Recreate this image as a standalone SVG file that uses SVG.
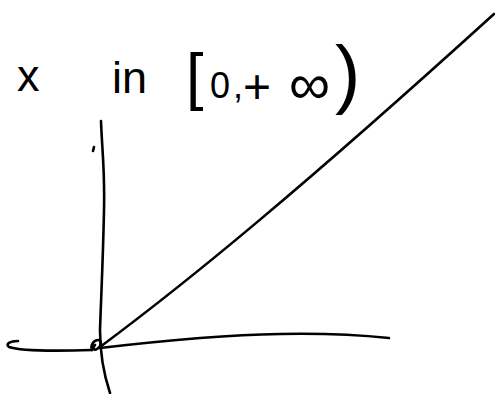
<svg xmlns="http://www.w3.org/2000/svg" width="495" height="394" viewBox="0 0 495 394">
<style>
.ink{fill:none;stroke:#000;stroke-width:2.6;stroke-linecap:round;stroke-linejoin:round}
.t{font-family:"Liberation Sans",Arial,sans-serif;fill:#000}
</style>
<rect width="495" height="394" fill="#fff"/>
<g id="label">
<text class="t" x="17" y="91" font-size="45">x</text>
<text class="t" x="112" y="93" font-size="45">in</text>
<text class="t" x="186" y="98" font-size="63">[</text>
<text class="t" x="210" y="98" font-size="36">0</text>
<text class="t" x="233" y="98" font-size="36">,</text>
<text class="t" x="243" y="103" font-size="48">+</text>
<text class="t" x="289" y="104" font-size="58">∞</text>
<text class="t" x="335" y="99" font-size="76">)</text>
</g>
<g id="axes">
<path class="ink" d="M101,121 C102,150 105,170 104,210 C103,260 101,300 100,330 C100,352 103,372 110,393"/>
<path class="ink" d="M18,341 C10,341 5,344 9,347 C20,351 60,351 92,350"/>
<path class="ink" d="M100,348 C160,341 220,335 280,334 C330,333 360,335 389,338"/>
<path class="ink" d="M92,350 C90,345 94,340 98,340 C102,340 102,346 97,349 C94,351 92,348 95,345"/>
<path class="ink" d="M100,347 C190,280 300,190 494,14"/>
<path class="ink" stroke-width="1.2" stroke="#555" d="M93,151 L94,147"/>
</g>
</svg>
